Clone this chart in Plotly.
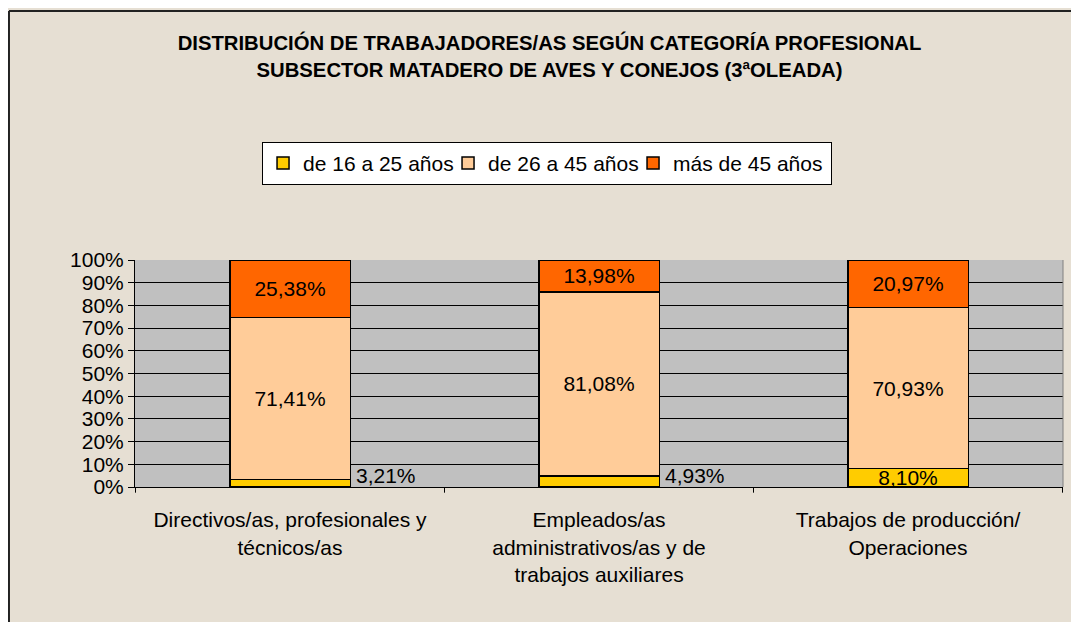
import plotly.graph_objects as go

# categorias y valores (%)
categorias = [
    "Directivos/as, profesionales y<br>técnicos/as",
    "Empleados/as<br>administrativos/as y de<br>trabajos auxiliares",
    "Trabajos de producción/<br>Operaciones",
]
joven = [3.21, 4.93, 8.10]
medio = [71.41, 81.08, 70.93]
mayor = [25.38, 13.98, 20.97]

series = ["de 16 a 25 años", "de 26 a 45 años", "más de 45 años"]
colores = ["#FFCC00", "#FFCC99", "#FF6600"]
ancho_leyenda = [140, 140, 153]

def fmt(v):
    return f"{v:.2f}".replace(".", ",") + "%"

FONT = "Liberation Sans, Arial, sans-serif"

fig = go.Figure()
for nombre, vals, col, lw in zip(series, [joven, medio, mayor], colores, ancho_leyenda):
    # etiquetas pequeñas (<6%) se colocan fuera con anotaciones
    txt = [fmt(v) if v > 6 else "" for v in vals]
    fig.add_trace(go.Bar(
        name=nombre, x=categorias, y=vals,
        marker=dict(color=col, line=dict(color="black", width=1.5)),
        text=txt, textposition="inside", insidetextanchor="middle",
        textfont=dict(size=21, color="black", family=FONT),
        textangle=0, constraintext="none",
        legendwidth=lw, hoverinfo="skip",
    ))

for cat, v in zip(categorias, joven):
    if v <= 6:
        fig.add_annotation(
            x=cat, y=0, xref="x", yref="y", text=fmt(v), showarrow=False,
            xanchor="left", yanchor="bottom", xshift=64, yshift=-2,
            font=dict(size=21, color="black", family=FONT),
        )

# la página añade 8px de margen al cuerpo, por eso 1071x614
fig.update_layout(
    barmode="stack", bargap=0.61,
    width=1071, height=614,
    margin=dict(l=127, r=16, t=252, b=135, autoexpand=False),
    paper_bgcolor="#E6DFD3", plot_bgcolor="#C0C0C0",
    font=dict(family=FONT, color="black"),
    title=dict(
        text="<b>DISTRIBUCIÓN DE TRABAJADORES/AS SEGÚN CATEGORÍA PROFESIONAL<br>"
             "SUBSECTOR MATADERO DE AVES Y CONEJOS (3ªOLEADA)</b>",
        x=0.5056, xanchor="center", y=0.931, yanchor="top",
        font=dict(size=20.3, family=FONT, color="black"),
    ),
    legend=dict(
        orientation="h", x=0.5033, xanchor="center", y=0.782, yanchor="top",
        xref="container", yref="container",
        bgcolor="white", bordercolor="black", borderwidth=1,
        font=dict(size=21, family=FONT), traceorder="normal",
        itemwidth=30,
    ),
    showlegend=True,
)
fig.update_yaxes(
    range=[0, 100], dtick=10, ticksuffix="%",
    showgrid=True, gridcolor="black", gridwidth=1,
    showline=True, linecolor="black", linewidth=1,
    ticks="outside", ticklen=6, tickcolor="black",
    tickfont=dict(size=21, family=FONT), zeroline=False,
    automargin=False, fixedrange=True,
)
fig.update_xaxes(
    showline=True, linecolor="black", linewidth=1,
    ticks="", tickfont=dict(size=21, family=FONT),
    ticklabelstandoff=14, automargin=False,
)
# marcas de separación de categorías en el eje x
for k in range(4):
    fig.add_shape(type="line", xref="x", yref="paper",
                  x0=k - 0.5, x1=k - 0.5, y0=0, y1=-0.025,
                  line=dict(color="black", width=1))
# borde derecho del área de trazado
fig.add_shape(type="line", xref="paper", yref="paper", x0=1, x1=1, y0=0, y1=1,
              line=dict(color="#808080", width=1))
# marco del gráfico (izquierda y arriba)
fig.add_shape(type="line", xref="paper", yref="paper",
              x0=-0.1358, x1=-0.1358, y0=-1, y1=2.097,
              line=dict(color="#222222", width=2))
fig.add_shape(type="line", xref="paper", yref="paper",
              x0=-0.1358, x1=1.1, y0=2.097, y1=2.097,
              line=dict(color="#222222", width=2))

fig.write_html("out.html")
